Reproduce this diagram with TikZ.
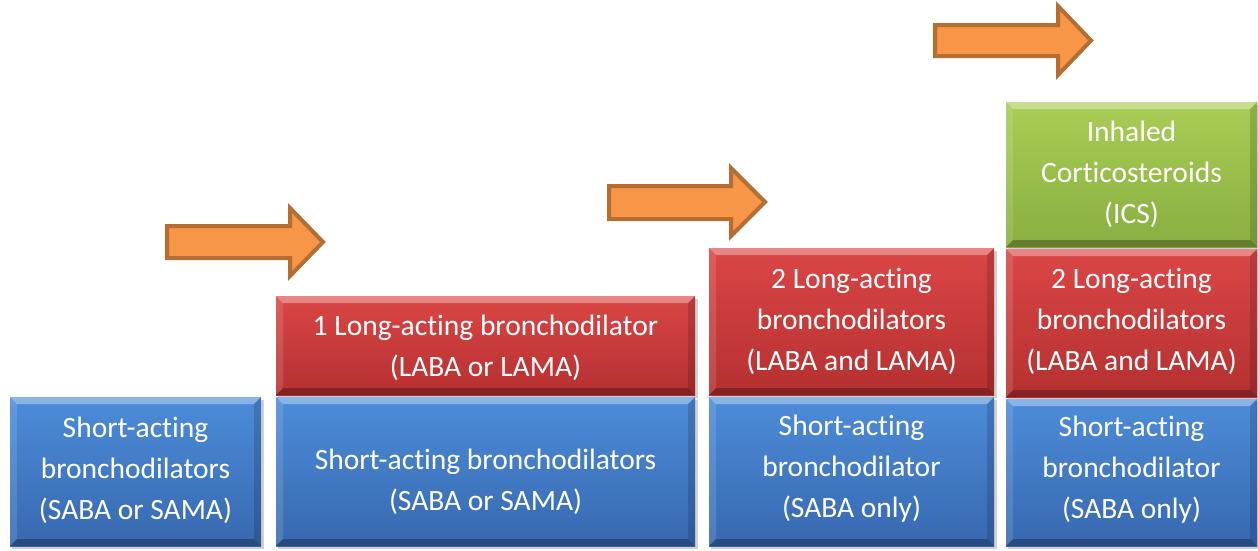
\documentclass[tikz,border=0pt]{standalone}
\usepackage{fontspec}
\setmainfont{Carlito}[Ligatures={NoCommon}]
\definecolor{bluetop}{HTML}{4D8CD9}
\definecolor{bluebot}{HTML}{3768B0}
\definecolor{redtop}{HTML}{DB4646}
\definecolor{redbot}{HTML}{B53030}
\definecolor{greentop}{HTML}{A9CD55}
\definecolor{greenbot}{HTML}{8AAE40}
\definecolor{arrfill}{HTML}{F79646}
\definecolor{arrline}{HTML}{B66D31}
\tikzset{
  boxtext/.style={text=white, align=center, inner sep=0pt, font=\fontsize{29.5}{41}\selectfont},
  arrowshape/.style={fill=arrfill, draw=arrline, line width=4pt, line join=miter},
}
% #1 name, #2 x1, #3 y1, #4 x2, #5 y2, #6 colour prefix
\newcommand\bevbox[6]{%
  \fill[black, opacity=.18] ({#2+2},{#3+3}) rectangle ({#4+3},{#5+3});
  \shade[top color=#6top, bottom color=#6bot] (#2,#3) rectangle (#4,#5);
  \fill[white, opacity=.35] (#2,#3) -- (#4,#3) -- ({#4-7},{#3+7}) -- ({#2+7},{#3+7}) -- cycle;
  \fill[white, opacity=.12] (#2,#3) -- ({#2+7},{#3+7}) -- ({#2+7},{#5-7}) -- (#2,#5) -- cycle;
  \fill[black, opacity=.15] (#4,#3) -- (#4,#5) -- ({#4-7},{#5-7}) -- ({#4-7},{#3+7}) -- cycle;
  \fill[black, opacity=.28] (#2,#5) -- (#4,#5) -- ({#4-7},{#5-7}) -- ({#2+7},{#5-7}) -- cycle;
  \coordinate (#1) at ({(#2+#4)/2},{(#3+#5)/2});
}
% arrow: #1 x left, #2 shaft top, #3 shaft bottom, #4 head base x, #5 head top, #6 head bottom, #7 tip x
\newcommand\fatarrow[7]{%
  \draw[arrowshape] (#1,#2) -- (#4,#2) -- (#4,#5) -- (#7,{(#5+#6)/2}) -- (#4,#6) -- (#4,#3) -- (#1,#3) -- cycle;
}
\begin{document}
\begin{tikzpicture}[x=1pt,y=-1pt]
\useasboundingbox (0,0) rectangle (1258,550);
% column 1
\bevbox{b1}{10}{397}{261}{546}{blue}
\node[boxtext] (t1) at (135.5,470) {Short-acting\\bronchodilators\\(SABA or SAMA)};
% column 2
\bevbox{r2}{276}{296}{695}{395}{red}
\bevbox{b2}{276}{397}{695}{546}{blue}
\node[boxtext] (t2r) at (485.5,348) {1 Long-acting bronchodilator\\(LABA or LAMA)};
\node[boxtext] (t2b) at (485.5,482) {Short-acting bronchodilators\\(SABA or SAMA)};
% column 3
\bevbox{r3}{709}{248}{994}{395}{red}
\bevbox{b3}{709}{397}{994}{546}{blue}
\node[boxtext] (t3r) at (851.5,321) {2 Long-acting\\bronchodilators\\(LABA and LAMA)};
\node[boxtext] (t3b) at (851.5,469) {Short-acting\\bronchodilator\\(SABA only)};
% column 4
\bevbox{g4}{1006}{102}{1257}{247}{green}
\bevbox{r4}{1006}{249}{1257}{397}{red}
\bevbox{b4}{1006}{399}{1257}{546}{blue}
\node[boxtext] (t4g) at (1131.5,174) {Inhaled\\Corticosteroids\\(ICS)};
\node[boxtext] (t4r) at (1131.5,321) {2 Long-acting\\bronchodilators\\(LABA and LAMA)};
\node[boxtext] (t4b) at (1131.5,470) {Short-acting\\bronchodilator\\(SABA only)};
% arrows
\fatarrow{167}{226}{258}{290}{208}{276}{323}
\fatarrow{609}{186}{219}{731}{168}{236}{765}
\fatarrow{935}{25}{56}{1058}{6}{75}{1091}
\end{tikzpicture}
\end{document}
